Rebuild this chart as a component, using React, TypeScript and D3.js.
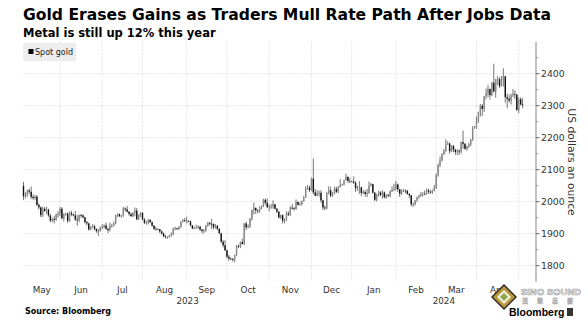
import React from 'react';
import * as d3 from 'd3';

const W = 588;
const H = 321;

const firstDay = new Date(2023, 4, 5);
const lastDay = new Date(2024, 4, 3);

// Daily spot gold OHLC (USD/oz), trading days May 5 2023 – May 3 2024
const opens = [
  // May 2023
  2050, 2017, 2021, 2035, 2031, 2015, 2011, 2016, 1990, 1982, 1958, 1978, 1971, 1975, 1957, 1941, 1946, 1943, 1959,
  // Jun
  1963, 1978, 1948, 1961, 1963, 1940, 1965, 1961, 1957, 1944, 1942, 1958, 1957, 1951, 1936, 1932, 1913, 1921, 1923, 1914, 1908, 1908,
  // Jul
  1919, 1921, 1926, 1915, 1911, 1925, 1925, 1932, 1957, 1961, 1955, 1955, 1979, 1976, 1969, 1962, 1955, 1965, 1972, 1945, 1959,
  // Aug
  1965, 1944, 1934, 1934, 1943, 1936, 1925, 1915, 1913, 1914, 1907, 1901, 1891, 1889, 1889, 1894, 1898, 1915, 1917, 1915, 1920, 1937, 1942,
  // Sep
  1940, 1940, 1938, 1926, 1916, 1919, 1919, 1922, 1913, 1908, 1910, 1924, 1934, 1931, 1930, 1920, 1925, 1915, 1901, 1875, 1864,
  // Oct
  1848, 1828, 1822, 1821, 1820, 1833, 1862, 1861, 1874, 1868, 1932, 1920, 1923, 1947, 1974, 1981, 1973, 1971, 1979, 1985, 2006, 1996,
  // Nov
  1983, 1983, 1985, 1992, 1978, 1969, 1950, 1958, 1940, 1946, 1963, 1959, 1981, 1980, 1978, 1999, 1990, 1992, 2002, 2013, 2041, 2044,
  // Dec
  2036, 2072, 2029, 2019, 2026, 2028, 2004, 1982, 1979, 2027, 2036, 2019, 2027, 2040, 2031, 2046, 2053, 2053, 2067, 2077, 2065,
  // Jan 2024
  2063, 2063, 2059, 2042, 2043, 2045, 2027, 2030, 2024, 2028, 2049, 2055, 2028, 2006, 2022, 2029, 2021, 2029, 2014, 2020, 2018, 2032, 2037,
  // Feb
  2039, 2054, 2039, 2025, 2035, 2035, 2034, 2024, 2020, 1992, 1992, 2004, 2013, 2018, 2024, 2025, 2024, 2035, 2031, 2030, 2034,
  // Mar
  2044, 2083, 2114, 2128, 2148, 2159, 2179, 2182, 2158, 2175, 2162, 2155, 2160, 2157, 2186, 2181, 2165, 2172, 2179, 2194, 2230,
  // Apr
  2233, 2251, 2280, 2300, 2290, 2330, 2339, 2352, 2333, 2372, 2344, 2383, 2383, 2361, 2379, 2392, 2327, 2322, 2316, 2332, 2337, 2335,
  // May
  2286, 2320, 2304,
];

const highs = [
  2062, 2030, 2038, 2041, 2048, 2022, 2022, 2020, 1995, 1985, 1984, 1983, 1985, 1978, 1962, 1950, 1956, 1963, 1970,
  1983, 1983, 1964, 1966, 1966, 1970, 1971, 1963, 1971, 1959, 1960, 1962, 1961, 1953, 1940, 1935, 1924, 1930, 1928, 1917, 1915, 1922,
  1929, 1929, 1935, 1919, 1935, 1931, 1938, 1959, 1964, 1963, 1958, 1984, 1982, 1987, 1971, 1966, 1968, 1982, 1980, 1961, 1968,
  1967, 1949, 1940, 1946, 1946, 1938, 1927, 1922, 1918, 1915, 1911, 1904, 1896, 1892, 1897, 1904, 1919, 1922, 1919, 1924, 1939, 1946, 1949,
  1953, 1942, 1941, 1927, 1922, 1928, 1926, 1925, 1914, 1915, 1928, 1937, 1937, 1947, 1932, 1930, 1926, 1917, 1903, 1880, 1880,
  1850, 1834, 1826, 1824, 1835, 1864, 1866, 1876, 1885, 1933, 1938, 1929, 1949, 1975, 1997, 1981, 1976, 1986, 1989, 2009, 2010, 2010,
  1991, 1993, 2004, 1993, 1980, 1971, 1960, 1960, 1948, 1970, 1970, 1986, 1993, 1984, 2007, 2001, 1998, 2004, 2018, 2048, 2052, 2050,
  2075, 2135, 2040, 2036, 2035, 2036, 2006, 1988, 2031, 2048, 2047, 2030, 2047, 2047, 2048, 2071, 2056, 2069, 2088, 2081, 2075,
  2066, 2079, 2064, 2050, 2064, 2047, 2037, 2036, 2040, 2063, 2059, 2056, 2030, 2025, 2034, 2033, 2036, 2032, 2024, 2025, 2036, 2048, 2056,
  2065, 2057, 2040, 2038, 2040, 2038, 2037, 2027, 2021, 1997, 2005, 2016, 2022, 2031, 2030, 2035, 2041, 2041, 2037, 2037, 2052,
  2088, 2119, 2141, 2152, 2165, 2195, 2189, 2185, 2177, 2176, 2166, 2164, 2163, 2188, 2222, 2183, 2175, 2184, 2196, 2236, 2237,
  2266, 2281, 2305, 2305, 2330, 2354, 2365, 2354, 2374, 2431, 2384, 2392, 2389, 2393, 2417, 2393, 2338, 2335, 2338, 2352, 2348, 2336,
  2326, 2326, 2324,
];

const lows = [
  2005, 2011, 2015, 2023, 2008, 2006, 2006, 1987, 1975, 1952, 1952, 1968, 1962, 1953, 1936, 1936, 1932, 1940, 1950,
  1955, 1945, 1938, 1956, 1934, 1937, 1955, 1954, 1940, 1925, 1936, 1950, 1948, 1932, 1925, 1910, 1911, 1918, 1911, 1903, 1893, 1907,
  1913, 1917, 1913, 1902, 1907, 1919, 1922, 1929, 1952, 1952, 1950, 1953, 1969, 1966, 1956, 1952, 1952, 1954, 1942, 1943, 1952,
  1942, 1930, 1928, 1929, 1933, 1922, 1912, 1910, 1910, 1901, 1896, 1889, 1885, 1884, 1887, 1891, 1895, 1911, 1911, 1912, 1919, 1935, 1936,
  1932, 1936, 1923, 1914, 1914, 1915, 1915, 1909, 1901, 1901, 1906, 1922, 1925, 1915, 1913, 1916, 1911, 1900, 1871, 1857, 1846,
  1823, 1815, 1818, 1813, 1810, 1830, 1855, 1855, 1866, 1865, 1911, 1917, 1918, 1941, 1960, 1962, 1964, 1965, 1976, 1983, 1990, 1980,
  1970, 1978, 1978, 1976, 1964, 1948, 1946, 1932, 1932, 1940, 1955, 1956, 1975, 1972, 1975, 1988, 1988, 1988, 2000, 2012, 2037, 2030,
  2034, 2023, 2017, 2017, 2016, 1996, 1974, 1973, 1977, 2023, 2014, 2015, 2023, 2027, 2026, 2044, 2050, 2051, 2066, 2058, 2058,
  2060, 2056, 2030, 2034, 2025, 2017, 2024, 2016, 2014, 2024, 2048, 2025, 2002, 2001, 2016, 2017, 2010, 2010, 2009, 2015, 2013, 2030, 2033,
  2035, 2030, 2015, 2022, 2030, 2026, 2022, 2012, 1985, 1984, 1988, 2000, 2010, 2015, 2016, 2020, 2022, 2024, 2025, 2024, 2032,
  2039, 2078, 2108, 2126, 2146, 2154, 2177, 2150, 2155, 2155, 2146, 2146, 2146, 2150, 2165, 2163, 2159, 2168, 2173, 2190, 2228,
  2228, 2246, 2266, 2268, 2280, 2320, 2327, 2319, 2330, 2342, 2325, 2365, 2355, 2360, 2360, 2310, 2292, 2310, 2304, 2327, 2321, 2285,
  2277, 2301, 2292,
];

const closes = [
  2017, 2021, 2035, 2031, 2015, 2011, 2016, 1990, 1982, 1958, 1978, 1971, 1975, 1957, 1941, 1946, 1943, 1959, 1963,
  1978, 1948, 1961, 1963, 1940, 1965, 1961, 1957, 1944, 1942, 1958, 1957, 1951, 1936, 1932, 1913, 1921, 1923, 1914, 1908, 1908, 1919,
  1921, 1926, 1915, 1911, 1925, 1925, 1932, 1957, 1961, 1955, 1955, 1979, 1976, 1969, 1962, 1955, 1965, 1972, 1945, 1959, 1965,
  1944, 1934, 1934, 1943, 1936, 1925, 1915, 1913, 1914, 1907, 1901, 1891, 1889, 1889, 1894, 1898, 1915, 1917, 1915, 1920, 1937, 1942, 1940,
  1940, 1938, 1926, 1916, 1919, 1919, 1922, 1913, 1908, 1910, 1924, 1934, 1931, 1930, 1920, 1925, 1915, 1901, 1875, 1864, 1848,
  1828, 1822, 1821, 1820, 1833, 1862, 1861, 1874, 1868, 1932, 1920, 1923, 1947, 1974, 1981, 1973, 1971, 1979, 1985, 2006, 1996, 1983,
  1983, 1985, 1992, 1978, 1969, 1950, 1958, 1940, 1946, 1963, 1959, 1981, 1980, 1978, 1999, 1990, 1992, 2002, 2013, 2041, 2044, 2036,
  2072, 2029, 2019, 2026, 2028, 2004, 1982, 1979, 2027, 2036, 2019, 2027, 2040, 2031, 2046, 2053, 2053, 2067, 2077, 2065, 2063,
  2063, 2059, 2042, 2043, 2045, 2027, 2030, 2024, 2028, 2049, 2055, 2028, 2006, 2022, 2029, 2021, 2029, 2014, 2020, 2018, 2032, 2037, 2039,
  2054, 2039, 2025, 2035, 2035, 2034, 2024, 2020, 1992, 1992, 2004, 2013, 2018, 2024, 2025, 2024, 2035, 2031, 2030, 2034, 2044,
  2083, 2114, 2128, 2148, 2159, 2179, 2182, 2158, 2175, 2162, 2155, 2160, 2157, 2186, 2181, 2165, 2172, 2179, 2194, 2230, 2233,
  2251, 2280, 2300, 2290, 2330, 2339, 2352, 2333, 2372, 2344, 2383, 2383, 2361, 2379, 2392, 2327, 2322, 2316, 2332, 2337, 2335, 2286,
  2320, 2304, 2301,
];

const yTicks = [1800, 1900, 2000, 2100, 2200, 2300, 2400];
const yMinorTicks = [1850, 1950, 2050, 2150, 2250, 2350, 2450];
const monthLabels = ['May', 'Jun', 'Jul', 'Aug', 'Sep', 'Oct', 'Nov', 'Dec', 'Jan', 'Feb', 'Mar', 'Apr'];
const yearLabels = ['2023', '2024'];

const title = 'Gold Erases Gains as Traders Mull Rate Path After Jobs Data';
const subtitle = 'Metal is still up 12% this year';
const legendLabel = 'Spot gold';
const axisTitle = 'US dollars an ounce';
const source = 'Source: Bloomberg';

const FONT = '"DejaVu Sans", Verdana, sans-serif';

export default function App() {
  const days = d3
    .timeDay.range(firstDay, d3.timeDay.offset(lastDay, 1))
    .filter((d) => d.getDay() !== 0 && d.getDay() !== 6);

  const left = 23.5;
  const right = 536;
  const top = 41.7;
  const bottom = 281.7;

  const x = d3.scaleLinear().domain([0, 267]).range([left, right]);
  const y = d3.scaleLinear().domain([1750, 2500]).range([bottom, top]);

  const monthStarts: { i: number; date: Date }[] = [];
  days.forEach((d, i) => {
    if (i === 0 || d.getMonth() !== days[i - 1].getMonth()) monthStarts.push({ i, date: d });
  });
  const gridIdx = monthStarts.slice(1).map((m) => m.i);

  const labelPos = monthLabels.map((lab, k) => {
    const a = k === 0 ? left : x(monthStarts[k].i);
    const b = x(monthStarts[k + 1].i);
    return { lab, cx: (a + b) / 2 };
  });

  const janIdx = monthStarts.find((m) => m.date.getFullYear() === 2024)!.i;
  const yearPos = [
    { lab: yearLabels[0], cx: (left + x(janIdx)) / 2 },
    { lab: yearLabels[1], cx: (x(janIdx) + right) / 2 },
  ];

  const bw = 1.4;

  return (
    <svg
      width={W}
      height={H}
      style={{ position: 'absolute', left: 0, top: 0, background: '#fff' }}
      fontFamily={FONT}
    >
      <rect width={W} height={H} fill="#fff" />
      <text x={23} y={20} fontSize={15.6} fontWeight="bold" fill="#000">{title}</text>
      <text x={23} y={37} fontSize={11.5} fontWeight="bold" fill="#000">{subtitle}</text>

      {/* grid */}
      <g stroke="#d4d4d4" strokeWidth={0.8} strokeDasharray="1.2,1.2">
        {yTicks.map((t) => (
          <line key={'h' + t} x1={left} x2={right} y1={y(t)} y2={y(t)} />
        ))}
        {gridIdx.map((i) => (
          <line key={'v' + i} x1={x(i)} x2={x(i)} y1={top} y2={bottom} />
        ))}
      </g>

      {/* legend */}
      <rect x={23} y={43} width={53} height={18} fill="#eeeeee" />
      <rect x={28.5} y={49} width={5} height={5} fill="#000" />
      <text x={35} y={55} fontSize={8} fill="#222">{legendLabel}</text>

      {/* candles */}
      <g>
        {days.map((d, i) => {
          const o = opens[i];
          const c = closes[i];
          const up = c >= o;
          const yTop = y(Math.max(o, c));
          const yBot = y(Math.min(o, c));
          return (
            <g key={i}>
              <line x1={x(i)} x2={x(i)} y1={y(highs[i])} y2={y(lows[i])} stroke="#666" strokeWidth={0.9} />
              <rect
                x={x(i) - bw / 2}
                y={yTop}
                width={bw}
                height={Math.max(0.8, yBot - yTop)}
                fill={up ? '#8a8a8a' : '#111'}
              />
            </g>
          );
        })}
      </g>

      {/* right axis */}
      <line x1={right} x2={right} y1={top} y2={bottom} stroke="#888" strokeWidth={1} />
      {yTicks.map((t) => (
        <g key={'t' + t}>
          <line x1={right} x2={right + 3.5} y1={y(t)} y2={y(t)} stroke="#666" />
          <text x={right + 5} y={y(t) + 3.3} fontSize={9.3} fill="#333">{t}</text>
        </g>
      ))}
      {yMinorTicks.map((t) => (
        <line key={'m' + t} x1={right} x2={right + 1.8} y1={y(t)} y2={y(t)} stroke="#888" />
      ))}
      <text
        transform={`translate(568,162) rotate(90)`}
        textAnchor="middle"
        fontSize={10.8}
        fill="#333"
      >
        {axisTitle}
      </text>

      {/* x labels */}
      {labelPos.map((p) => (
        <text key={p.lab} x={p.cx} y={293} textAnchor="middle" fontSize={8.8} fill="#333">{p.lab}</text>
      ))}
      {yearPos.map((p) => (
        <text key={p.lab} x={p.cx} y={304} textAnchor="middle" fontSize={8.8} fill="#333">{p.lab}</text>
      ))}

      <text x={25} y={314} fontSize={8} fontWeight="bold" fill="#000">{source}</text>

      {/* watermark */}
      <g>
        <polygon points="504,284 517,297 504,310 491,297" fill="#2a2a2a" />
        <polygon points="504,286 515,297 504,308 493,297" fill="#b79a3a" />
        <polygon points="504,290 511,297 504,304 497,297" fill="#f4f0e0" />
        <polygon points="504,293 508,297 504,301 500,297" fill="#8aa84a" />
        <text x={521} y={295} fontSize={9.2} fontWeight="bold" fill="#fff" stroke="#9a9a9a" strokeWidth={0.6} fontFamily='"Liberation Sans", Arial, sans-serif' letterSpacing={0.2}>SINO SOUND</text>
        <text x={522} y={302.5} fontSize={6} fontWeight="bold" fill="#fff" stroke="#aaa" strokeWidth={0.4} letterSpacing={9} fontFamily='"Noto Sans CJK TC", sans-serif'>漢聲集團</text>
        <text x={509} y={315.5} fontSize={10.5} fontWeight="bold" fill="#000" fontFamily='"Liberation Sans", Arial, sans-serif'>Bloomberg</text>
        <rect x={567} y={308} width={6} height={8} fill="#333" />
      </g>
    </svg>
  );
}
